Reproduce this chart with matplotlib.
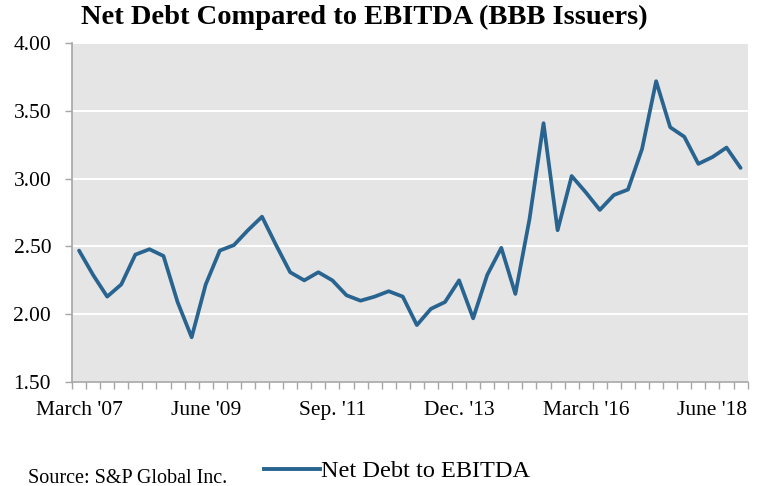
import matplotlib.pyplot as plt
from matplotlib.lines import Line2D

# quarterly ratio, March '07 onwards
quarters = ["March '07", "June '07", "Sep. '07", "Dec. '07",
            "March '08", "June '08", "Sep. '08", "Dec. '08",
            "March '09", "June '09", "Sep. '09", "Dec. '09",
            "March '10", "June '10", "Sep. '10", "Dec. '10",
            "March '11", "June '11", "Sep. '11", "Dec. '11",
            "March '12", "June '12", "Sep. '12", "Dec. '12",
            "March '13", "June '13", "Sep. '13", "Dec. '13",
            "March '14", "June '14", "Sep. '14", "Dec. '14",
            "March '15", "June '15", "Sep. '15", "Dec. '15",
            "March '16", "June '16", "Sep. '16", "Dec. '16",
            "March '17", "June '17", "Sep. '17", "Dec. '17",
            "March '18", "June '18", "Sep. '18", "Dec. '18"]
net_debt_ebitda = [2.47, 2.29, 2.13, 2.22, 2.44, 2.48, 2.43, 2.09,
                   1.83, 2.22, 2.47, 2.51, 2.62, 2.72, 2.51, 2.31,
                   2.25, 2.31, 2.25, 2.14, 2.10, 2.13, 2.17, 2.13,
                   1.92, 2.04, 2.09, 2.25, 1.97, 2.29, 2.49, 2.15,
                   2.70, 3.41, 2.62, 3.02, 2.90, 2.77, 2.88, 2.92,
                   3.22, 3.72, 3.38, 3.31, 3.11, 3.16, 3.23, 3.08]
label_idx = [0, 9, 18, 27, 36, 45]
y_ticks = [1.5, 2.0, 2.5, 3.0, 3.5, 4.0]

plt.rcParams['font.family'] = ['Liberation Serif', 'DejaVu Serif']

line_color = '#28648F'
spine_color = '#A6A6A6'

fig = plt.figure(figsize=(7.66, 4.86), dpi=100)
ax = fig.add_axes([0.094, 0.214, 0.882, 0.697])
ax.set_facecolor('#E5E5E5')

x = list(range(len(net_debt_ebitda)))
ax.plot(x, net_debt_ebitda, color=line_color, lw=2.7, solid_joinstyle='round',
        solid_capstyle='round', zorder=3)

ax.set_xlim(-0.5, len(x) - 0.5)
ax.set_ylim(1.5, 4.0)
ax.set_yticks(y_ticks)
ax.set_yticklabels([f'{v:.2f}' for v in y_ticks], fontsize=15.5)
ax.grid(axis='y', color='white', lw=1.4)
ax.set_axisbelow(True)

ax.set_xticks(label_idx)
ax.set_xticklabels([quarters[i] for i in label_idx], fontsize=15.5)
ax.set_xticks([i - 0.5 for i in range(len(x) + 1)], minor=True)
ax.tick_params(axis='x', which='major', length=0, pad=14)
ax.tick_params(axis='x', which='minor', length=5, color=spine_color, width=1)
ax.tick_params(axis='y', length=5, color=spine_color, width=1, pad=10)

for s in ['top', 'right']:
    ax.spines[s].set_visible(False)
for s in ['left', 'bottom']:
    ax.spines[s].set_color(spine_color)
    ax.spines[s].set_linewidth(1.2)

fig.text(0.476, 0.965, 'Net Debt Compared to EBITDA (BBB Issuers)',
         ha='center', va='center', fontsize=20.5, fontweight='bold')
fig.text(0.037, 1 - 478 / 486, 'Source: S&P Global Inc.', fontsize=14.5,
         va='center')

handle = Line2D([0], [0], color=line_color, lw=2.8)
fig.legend([handle], ['Net Debt to EBITDA'], loc='center left',
           bbox_to_anchor=(0.345, 1 - 471 / 486), frameon=False, fontsize=17.5,
           handlelength=2.3, handletextpad=0.05, borderaxespad=0, borderpad=0)

fig.savefig('out.png', dpi=100)
